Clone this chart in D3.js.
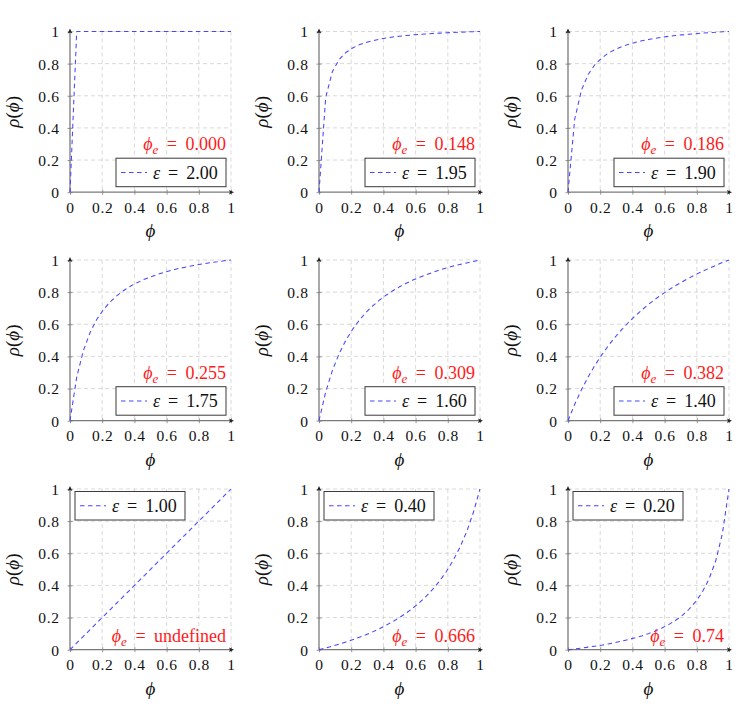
<!DOCTYPE html>
<html><head><meta charset="utf-8">
<script src="https://cdn.jsdelivr.net/npm/d3@7"></script>
<style>
body{margin:0;background:#fff}
svg{display:block}
svg text{font-family:"Liberation Serif","Times New Roman",serif}
</style>
</head><body><svg id="c" width="746" height="708"></svg>
<script>
// sample grid of phi (25 samples on [0,1])
const phi = [0, 0.0417, 0.0833, 0.125, 0.1667, 0.2083, 0.25, 0.2917, 0.3333, 0.375, 0.4167, 0.4583, 0.5,
             0.5417, 0.5833, 0.625, 0.6667, 0.7083, 0.75, 0.7917, 0.8333, 0.875, 0.9167, 0.9583, 1];

const rhoEps200 = [0, 1, 1, 1, 1, 1, 1, 1, 1, 1, 1, 1, 1, 1, 1, 1, 1, 1, 1, 1, 1, 1, 1, 1, 1];
const rhoEps195 = [0, 0.590, 0.751, 0.825, 0.869, 0.897, 0.917, 0.932, 0.943, 0.952, 0.959, 0.966, 0.971,
                   0.975, 0.979, 0.982, 0.985, 0.988, 0.990, 0.992, 0.994, 0.996, 0.997, 0.999, 1];
const rhoEps190 = [0, 0.454, 0.635, 0.732, 0.793, 0.834, 0.865, 0.887, 0.905, 0.920, 0.932, 0.942, 0.950,
                   0.958, 0.964, 0.970, 0.975, 0.979, 0.983, 0.986, 0.990, 0.993, 0.995, 0.998, 1];
const rhoEps175 = [0, 0.271, 0.437, 0.549, 0.631, 0.692, 0.740, 0.778, 0.810, 0.837, 0.859, 0.878, 0.895,
                   0.910, 0.923, 0.934, 0.945, 0.954, 0.962, 0.970, 0.977, 0.984, 0.989, 0.995, 1];
const rhoEps160 = [0, 0.179, 0.313, 0.417, 0.500, 0.568, 0.625, 0.673, 0.714, 0.750, 0.781, 0.809, 0.833,
                   0.855, 0.875, 0.893, 0.909, 0.924, 0.938, 0.950, 0.962, 0.972, 0.982, 0.991, 1];
const rhoEps140 = [0, 0.102, 0.192, 0.272, 0.344, 0.408, 0.466, 0.519, 0.567, 0.611, 0.652, 0.689, 0.724,
                   0.756, 0.786, 0.814, 0.840, 0.864, 0.887, 0.909, 0.929, 0.948, 0.966, 0.984, 1];
const rhoEps100 = [0, 0.042, 0.083, 0.125, 0.167, 0.208, 0.250, 0.292, 0.333, 0.375, 0.417, 0.458, 0.500,
                   0.542, 0.583, 0.625, 0.667, 0.708, 0.750, 0.792, 0.833, 0.875, 0.917, 0.958, 1];
const rhoEps040 = [0, 0.011, 0.022, 0.034, 0.048, 0.062, 0.077, 0.093, 0.111, 0.130, 0.152, 0.175, 0.200,
                   0.228, 0.259, 0.294, 0.333, 0.378, 0.429, 0.487, 0.556, 0.636, 0.733, 0.852, 1];
const rhoEps020 = [0, 0.005, 0.010, 0.016, 0.022, 0.028, 0.036, 0.044, 0.053, 0.063, 0.074, 0.086, 0.100,
                   0.116, 0.135, 0.156, 0.182, 0.212, 0.250, 0.297, 0.357, 0.438, 0.550, 0.719, 1];

const epsilonLabels = ["2.00", "1.95", "1.90", "1.75", "1.60", "1.40", "1.00", "0.40", "0.20"];
const phiELabels = ["0.000", "0.148", "0.186", "0.255", "0.309", "0.382", "undefined", "0.666", "0.74"];
const tickValues = [0, 0.2, 0.4, 0.6, 0.8, 1];
const tickLabels = ["0", "0.2", "0.4", "0.6", "0.8", "1"];

const series = [rhoEps200, rhoEps195, rhoEps190, rhoEps175, rhoEps160, rhoEps140, rhoEps100, rhoEps040, rhoEps020];

const svg = d3.select("#c");
const W = 161, H = 160.7;
const colX = [70, 319, 568], rowY = [31.5, 260.0, 489.0];
const x = d3.scaleLinear().domain([0, 1]).range([0, W]);
const y = d3.scaleLinear().domain([0, 1]).range([H, 0]);
const axisCol = "#7a7a7a", gridCol = "#cfcfcf", curveCol = "#4646ff", red = "#ff1a1a";

series.forEach((s, i) => {
  const r = Math.floor(i / 3), c = i % 3;
  const g = svg.append("g").attr("transform", `translate(${colX[c]},${rowY[r]})`);

  // grid
  g.append("g").selectAll("line").data(tickValues.slice(1)).join("line")
    .attr("x1", d => x(d)).attr("x2", d => x(d)).attr("y1", 0).attr("y2", H)
    .attr("stroke", gridCol).attr("stroke-width", 0.8).attr("stroke-dasharray", "4,3");
  g.append("g").selectAll("line").data(tickValues.slice(1)).join("line")
    .attr("y1", d => y(d)).attr("y2", d => y(d)).attr("x1", 0).attr("x2", W)
    .attr("stroke", gridCol).attr("stroke-width", 0.8).attr("stroke-dasharray", "4,3");

  // axes via d3
  const xa = g.append("g").attr("transform", `translate(0,${H})`)
    .call(d3.axisBottom(x).tickValues(tickValues).tickFormat((d, k) => tickLabels[k])
      .tickSize(2.5).tickSizeOuter(0).tickPadding(7));
  const ya = g.append("g")
    .call(d3.axisLeft(y).tickValues(tickValues).tickFormat((d, k) => tickLabels[k])
      .tickSize(2.5).tickSizeOuter(0).tickPadding(8));
  [xa, ya].forEach(a => {
    a.attr("font-family", null).attr("font-size", null);
    a.select(".domain").remove();
    a.selectAll(".tick line").attr("stroke", axisCol).attr("stroke-width", 0.8);
    a.selectAll(".tick text").attr("font-size", 15.5)
      .attr("letter-spacing", "0.6px").attr("fill", "#111");
  });
  xa.selectAll(".tick line").attr("y1", -2.5);
  ya.selectAll(".tick line").attr("x1", 2.5);
  ya.selectAll(".tick text").attr("dy", "0.35em");

  // axis lines with arrows
  g.append("line").attr("x1", 0).attr("y1", H).attr("x2", W + 1).attr("y2", H)
    .attr("stroke", axisCol).attr("stroke-width", 1.3);
  g.append("line").attr("x1", 0).attr("y1", H).attr("x2", 0).attr("y2", -1)
    .attr("stroke", axisCol).attr("stroke-width", 1.3);
  g.append("path").attr("d", `M${W + 3},${H} L${W - 2},${H - 2.3} L${W - 1},${H} L${W - 2},${H + 2.3} Z`).attr("fill", "#222");
  g.append("path").attr("d", `M0,-3 L-2.3,2 L0,1 L2.3,2 Z`).attr("fill", "#222");

  // curve
  g.append("path").datum(s)
    .attr("d", d3.line().x((d, k) => x(phi[k])).y(d => y(d)))
    .attr("fill", "none").attr("stroke", curveCol).attr("stroke-width", 1.05)
    .attr("stroke-linecap", "butt").attr("stroke-linejoin", "round")
    .attr("stroke-dasharray", "4.5,3.5");

  // axis titles
  g.append("text").attr("x", W / 2).attr("y", H + 45).attr("text-anchor", "middle")
    .attr("font-size", 19).attr("font-style", "italic").attr("fill", "#111")
    .text("\u03D5");
  const yl = g.append("text").attr("transform", `translate(-51,${H / 2}) rotate(-90)`)
    .attr("text-anchor", "middle").attr("font-size", 19).attr("fill", "#111");
  yl.append("tspan").attr("font-style", "italic").text("\u03C1");
  yl.append("tspan").text("(");
  yl.append("tspan").attr("font-style", "italic").text("\u03D5");
  yl.append("tspan").text(")");

  // legend
  const top = r === 2;
  const lx = top ? 5 : 46, ly = top ? 2.5 : H - 34;
  const lg = g.append("g").attr("transform", `translate(${lx},${ly})`);
  lg.append("rect").attr("width", 110).attr("height", 28.5).attr("fill", "#fff")
    .attr("stroke", "#3a3a3a").attr("stroke-width", 1);
  lg.append("line").attr("x1", 5).attr("x2", 31).attr("y1", 14.2).attr("y2", 14.2)
    .attr("stroke", curveCol).attr("stroke-width", 1.05).attr("stroke-dasharray", "4.5,3.5");
  const lt = lg.append("text").attr("x", 37).attr("y", 14.2).attr("dy", "0.35em")
    .attr("font-size", 18).attr("fill", "#111")
    .attr("word-spacing", "3.5px").style("white-space", "pre");
  lt.append("tspan").attr("font-style", "italic").text("\u03B5");
  lt.append("tspan").text(" = " + epsilonLabels[i]);

  // phi_e label
  const ry = top ? H - 8 : H - 42;
  const rt = g.append("text").attr("x", W - 5).attr("y", ry).attr("text-anchor", "end")
    .attr("font-size", 18).attr("fill", red)
    .attr("word-spacing", "4px").style("white-space", "pre");
  rt.append("tspan").attr("font-style", "italic").text("\u03D5");
  rt.append("tspan").attr("font-size", 13).attr("font-style", "italic").attr("dy", 4).text("e");
  rt.append("tspan").attr("dy", -4).text(" = " + phiELabels[i]);
});
</script></body></html>
